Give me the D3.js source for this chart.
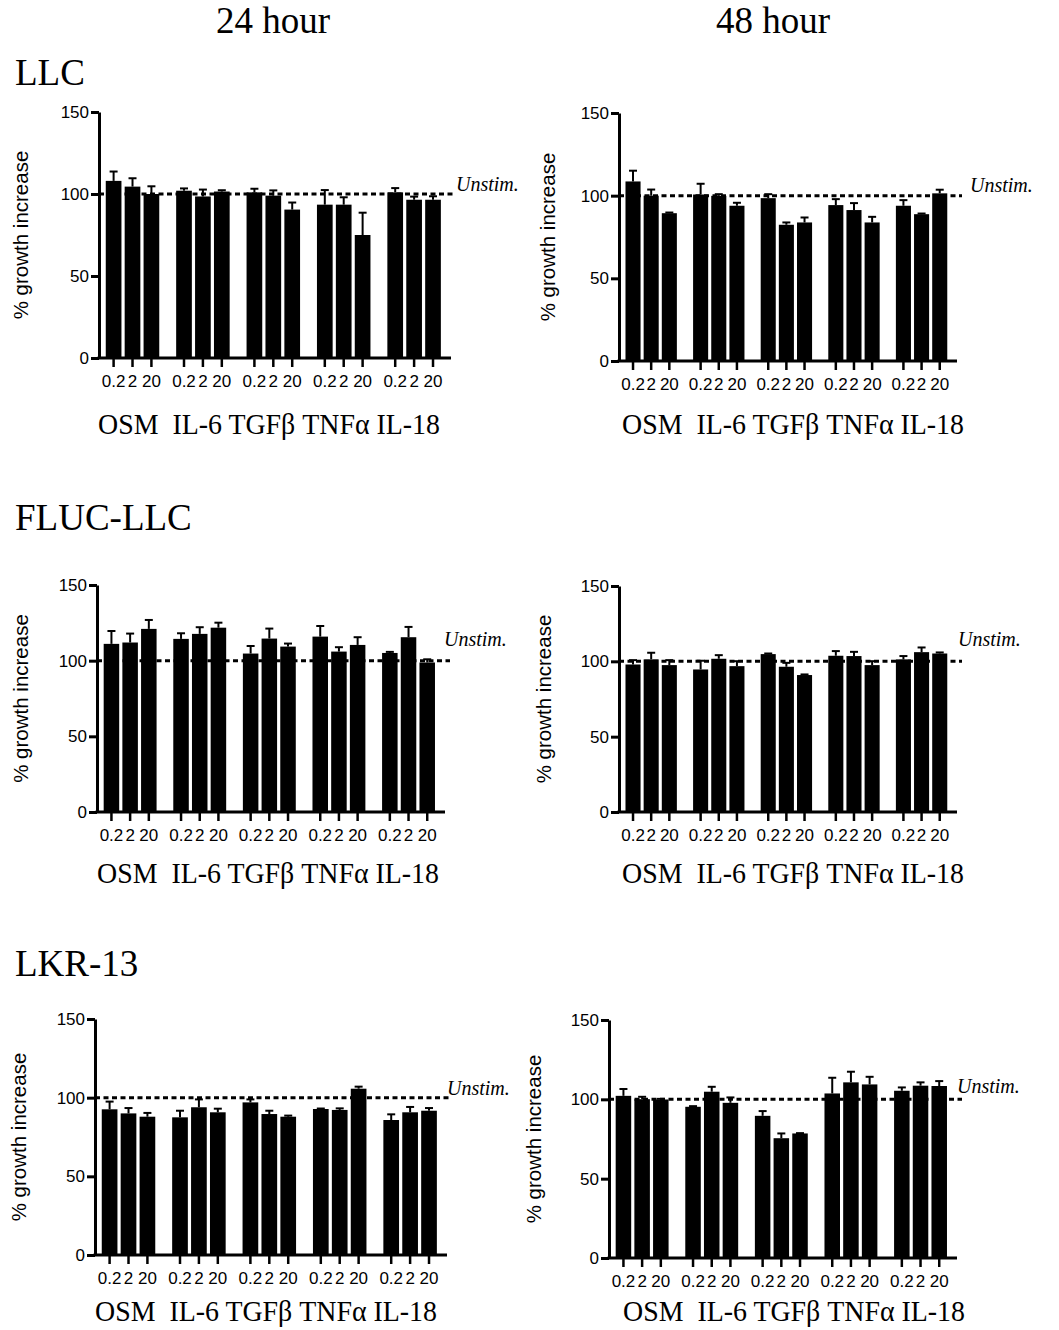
<!DOCTYPE html>
<html>
<head>
<meta charset="utf-8">
<script src="https://cdn.jsdelivr.net/npm/d3@7"></script>
<style>
  body { margin: 0; background: #fff; }
  .axis text { font-family: "Liberation Sans", Arial, sans-serif; font-size: 17px; fill: #000; }
  .ylab { font-family: "Liberation Sans", Arial, sans-serif; font-size: 20.5px; }
  .serif { font-family: "Liberation Serif", Cambria, serif; }
</style>
</head>
<body>
<div id="chart"></div>
<script>
// data
const categories = ["OSM", "IL-6", "TGFβ", "TNFα", "IL-18"];
const doses = ["0.2", "2", "20"];
const yTicks = [0, 50, 100, 150];
const timepoints = ["24 hour", "48 hour"];
const cellLines = ["LLC", "FLUC-LLC", "LKR-13"];

const llc24Mean = [108, 104.5, 100, 102, 98.5, 101.5, 101, 99, 90.5, 93.5, 93.5, 75, 101, 96.5, 96.5];
const llc24Sem  = [5.7, 5.1, 4.7, 1.4, 4.2, 0.8, 2.2, 3.2, 4.3, 8.9, 4.5, 13.6, 2.6, 1.9, 2.1];
const llc48Mean = [108.6, 100, 89.4, 100.7, 99.9, 93.9, 98.5, 82.4, 83.8, 94.3, 91.3, 83.8, 93.9, 88.8, 101.4];
const llc48Sem  = [6.5, 3.7, 0.4, 6.5, 1, 1.8, 2.4, 1.4, 3, 3.6, 4.2, 3.4, 3.4, 0.4, 2.2];
const fluc24Mean = [111.1, 112, 121, 114.4, 117.7, 121.8, 104.7, 114.6, 109.3, 115.9, 106, 110.4, 105.1, 115.5, 98.8];
const fluc24Sem  = [8.5, 5.9, 5.9, 3.7, 4.4, 3.3, 5, 6.6, 2, 7, 2.9, 5.1, 0.7, 6.8, 2.1];
const fluc48Mean = [97.9, 101.3, 97.5, 94.6, 101.7, 96.8, 104.8, 96.4, 90.9, 103.7, 103.5, 97.5, 101.3, 106.1, 105.2];
const fluc48Sem  = [2.9, 4.4, 3.3, 5.8, 2.4, 3.3, 0.4, 2.6, 0.4, 3.1, 2.8, 2.6, 2.2, 3.1, 0.7];
const lkr24Mean = [92.6, 90, 87.9, 87.5, 93.9, 90.7, 97, 89.6, 87.9, 92.8, 92.2, 105.7, 85.8, 90.7, 91.7];
const lkr24Sem  = [4.9, 3.4, 2.4, 4.2, 5, 2.3, 1.9, 2.1, 0.7, 0.3, 1, 1.3, 3.6, 3.4, 1.7];
const lkr48Mean = [102.2, 100.1, 99.9, 95.3, 104.8, 97.8, 89.6, 75.5, 78.5, 103.7, 110.7, 109.4, 105.4, 108.6, 108.4];
const lkr48Sem  = [4.3, 1.5, 0.4, 0.4, 3.1, 3.4, 3, 3, 0.2, 9.9, 6.7, 4.8, 2.1, 2.1, 3.1];

// panel layout (pixel frame of each small chart)
const panels = [
  { mean: llc24Mean,  sem: llc24Sem,  x0: 99,  x1: 451, yTop: 112,  yBase: 358,  ylabX: 20,  unX: 456, unY: 191,  catX: 98,  catY: 434 },
  { mean: llc48Mean,  sem: llc48Sem,  x0: 619, x1: 957, yTop: 113,  yBase: 361,  ylabX: 547, unX: 970, unY: 192,  catX: 622, catY: 434 },
  { mean: fluc24Mean, sem: fluc24Sem, x0: 97,  x1: 445, yTop: 585,  yBase: 812,  ylabX: 20,  unX: 444, unY: 646,  catX: 97,  catY: 883 },
  { mean: fluc48Mean, sem: fluc48Sem, x0: 619, x1: 957, yTop: 586,  yBase: 812,  ylabX: 543, unX: 958, unY: 646,  catX: 622, catY: 883 },
  { mean: lkr24Mean,  sem: lkr24Sem,  x0: 95,  x1: 447, yTop: 1019, yBase: 1255, ylabX: 18,  unX: 447, unY: 1095, catX: 95,  catY: 1321 },
  { mean: lkr48Mean,  sem: lkr48Sem,  x0: 609, x1: 957, yTop: 1020, yBase: 1258, ylabX: 533, unX: 957, unY: 1093, catX: 623, catY: 1321 }
];

const W = 1059, H = 1330;
const svg = d3.select("#chart").append("svg")
  .attr("width", W).attr("height", H)
  .style("background", "#fff");

// column titles
svg.selectAll(".coltitle").data(timepoints).enter().append("text")
  .attr("class", "serif")
  .attr("x", (d, i) => i === 0 ? 273 : 773).attr("y", 33)
  .attr("text-anchor", "middle").style("font-size", "37px")
  .text(d => d);

// row titles
svg.selectAll(".rowtitle").data(cellLines).enter().append("text")
  .attr("class", "serif")
  .attr("x", 15).attr("y", (d, i) => [85, 530, 976][i])
  .style("font-size", "37px")
  .text(d => d);

panels.forEach(p => {
  const g = svg.append("g");
  const rows = categories.flatMap((c, i) => doses.map((d, j) => ({
    cat: c, dose: d, v: p.mean[i * 3 + j], e: p.sem[i * 3 + j]
  })));

  const y = d3.scaleLinear().domain([0, 150]).range([p.yBase, p.yTop]);
  const xG = d3.scaleBand().domain(categories).range([p.x0, p.x1])
    .paddingInner(0.24).paddingOuter(0.12).align(0.4);
  const xD = d3.scaleBand().domain(doses).range([0, xG.bandwidth()])
    .paddingInner(0.17).paddingOuter(0);
  const cx = d => xG(d.cat) + xD(d.dose) + xD.bandwidth() / 2;

  // dashed "Unstim." reference
  g.append("line")
    .attr("x1", p.x0).attr("x2", p.x1 + 5)
    .attr("y1", y(100)).attr("y2", y(100))
    .attr("stroke", "#000").attr("stroke-width", 3)
    .attr("stroke-dasharray", "5,3.5");
  g.append("text").attr("class", "serif")
    .attr("x", p.unX).attr("y", p.unY)
    .style("font-size", "20px").style("font-style", "italic")
    .text("Unstim.");

  // bars
  g.selectAll(".bar").data(rows).enter().append("rect")
    .attr("x", d => xG(d.cat) + xD(d.dose))
    .attr("width", xD.bandwidth())
    .attr("y", d => y(d.v))
    .attr("height", d => y(0) - y(d.v))
    .attr("fill", "#000");

  // error bars (upper whisker only)
  g.selectAll(".err").data(rows).enter().append("line")
    .attr("x1", cx).attr("x2", cx)
    .attr("y1", d => y(d.v)).attr("y2", d => y(d.v + d.e))
    .attr("stroke", "#000").attr("stroke-width", 2);
  g.selectAll(".cap").data(rows).enter().append("line")
    .attr("x1", d => cx(d) - 4).attr("x2", d => cx(d) + 4)
    .attr("y1", d => y(d.v + d.e)).attr("y2", d => y(d.v + d.e))
    .attr("stroke", "#000").attr("stroke-width", 2);

  // y axis
  const ya = g.append("g").attr("class", "axis")
    .attr("transform", `translate(${p.x0},0)`)
    .call(d3.axisLeft(y).tickValues(yTicks).tickSize(8).tickSizeOuter(0).tickPadding(2));
  ya.selectAll("path, line").attr("stroke", "#000").attr("stroke-width", 3);

  // x axis: baseline + dose ticks per group
  g.append("line")
    .attr("x1", p.x0 - 1.5).attr("x2", p.x1)
    .attr("y1", y(0)).attr("y2", y(0))
    .attr("stroke", "#000").attr("stroke-width", 3);
  categories.forEach(c => {
    const xa = g.append("g").attr("class", "axis")
      .attr("transform", `translate(${xG(c)},${y(0)})`)
      .call(d3.axisBottom(xD).tickSize(9).tickPadding(8));
    xa.select(".domain").remove();
    xa.selectAll("line").attr("stroke", "#000").attr("stroke-width", 2.5);
  });

  // y label
  g.append("text").attr("class", "ylab")
    .attr("transform", `translate(${p.ylabX},${(p.yTop + p.yBase) / 2}) rotate(-90)`)
    .attr("text-anchor", "middle").attr("dominant-baseline", "central")
    .text("% growth increase");

  // category line under each chart
  g.append("text").attr("class", "serif")
    .attr("x", p.catX).attr("y", p.catY)
    .style("font-size", "29px").style("white-space", "pre")
    .attr("textLength", 342).attr("lengthAdjust", "spacingAndGlyphs")
    .text(categories[0] + "  " + categories.slice(1).join(" "));
});
</script>
</body>
</html>
